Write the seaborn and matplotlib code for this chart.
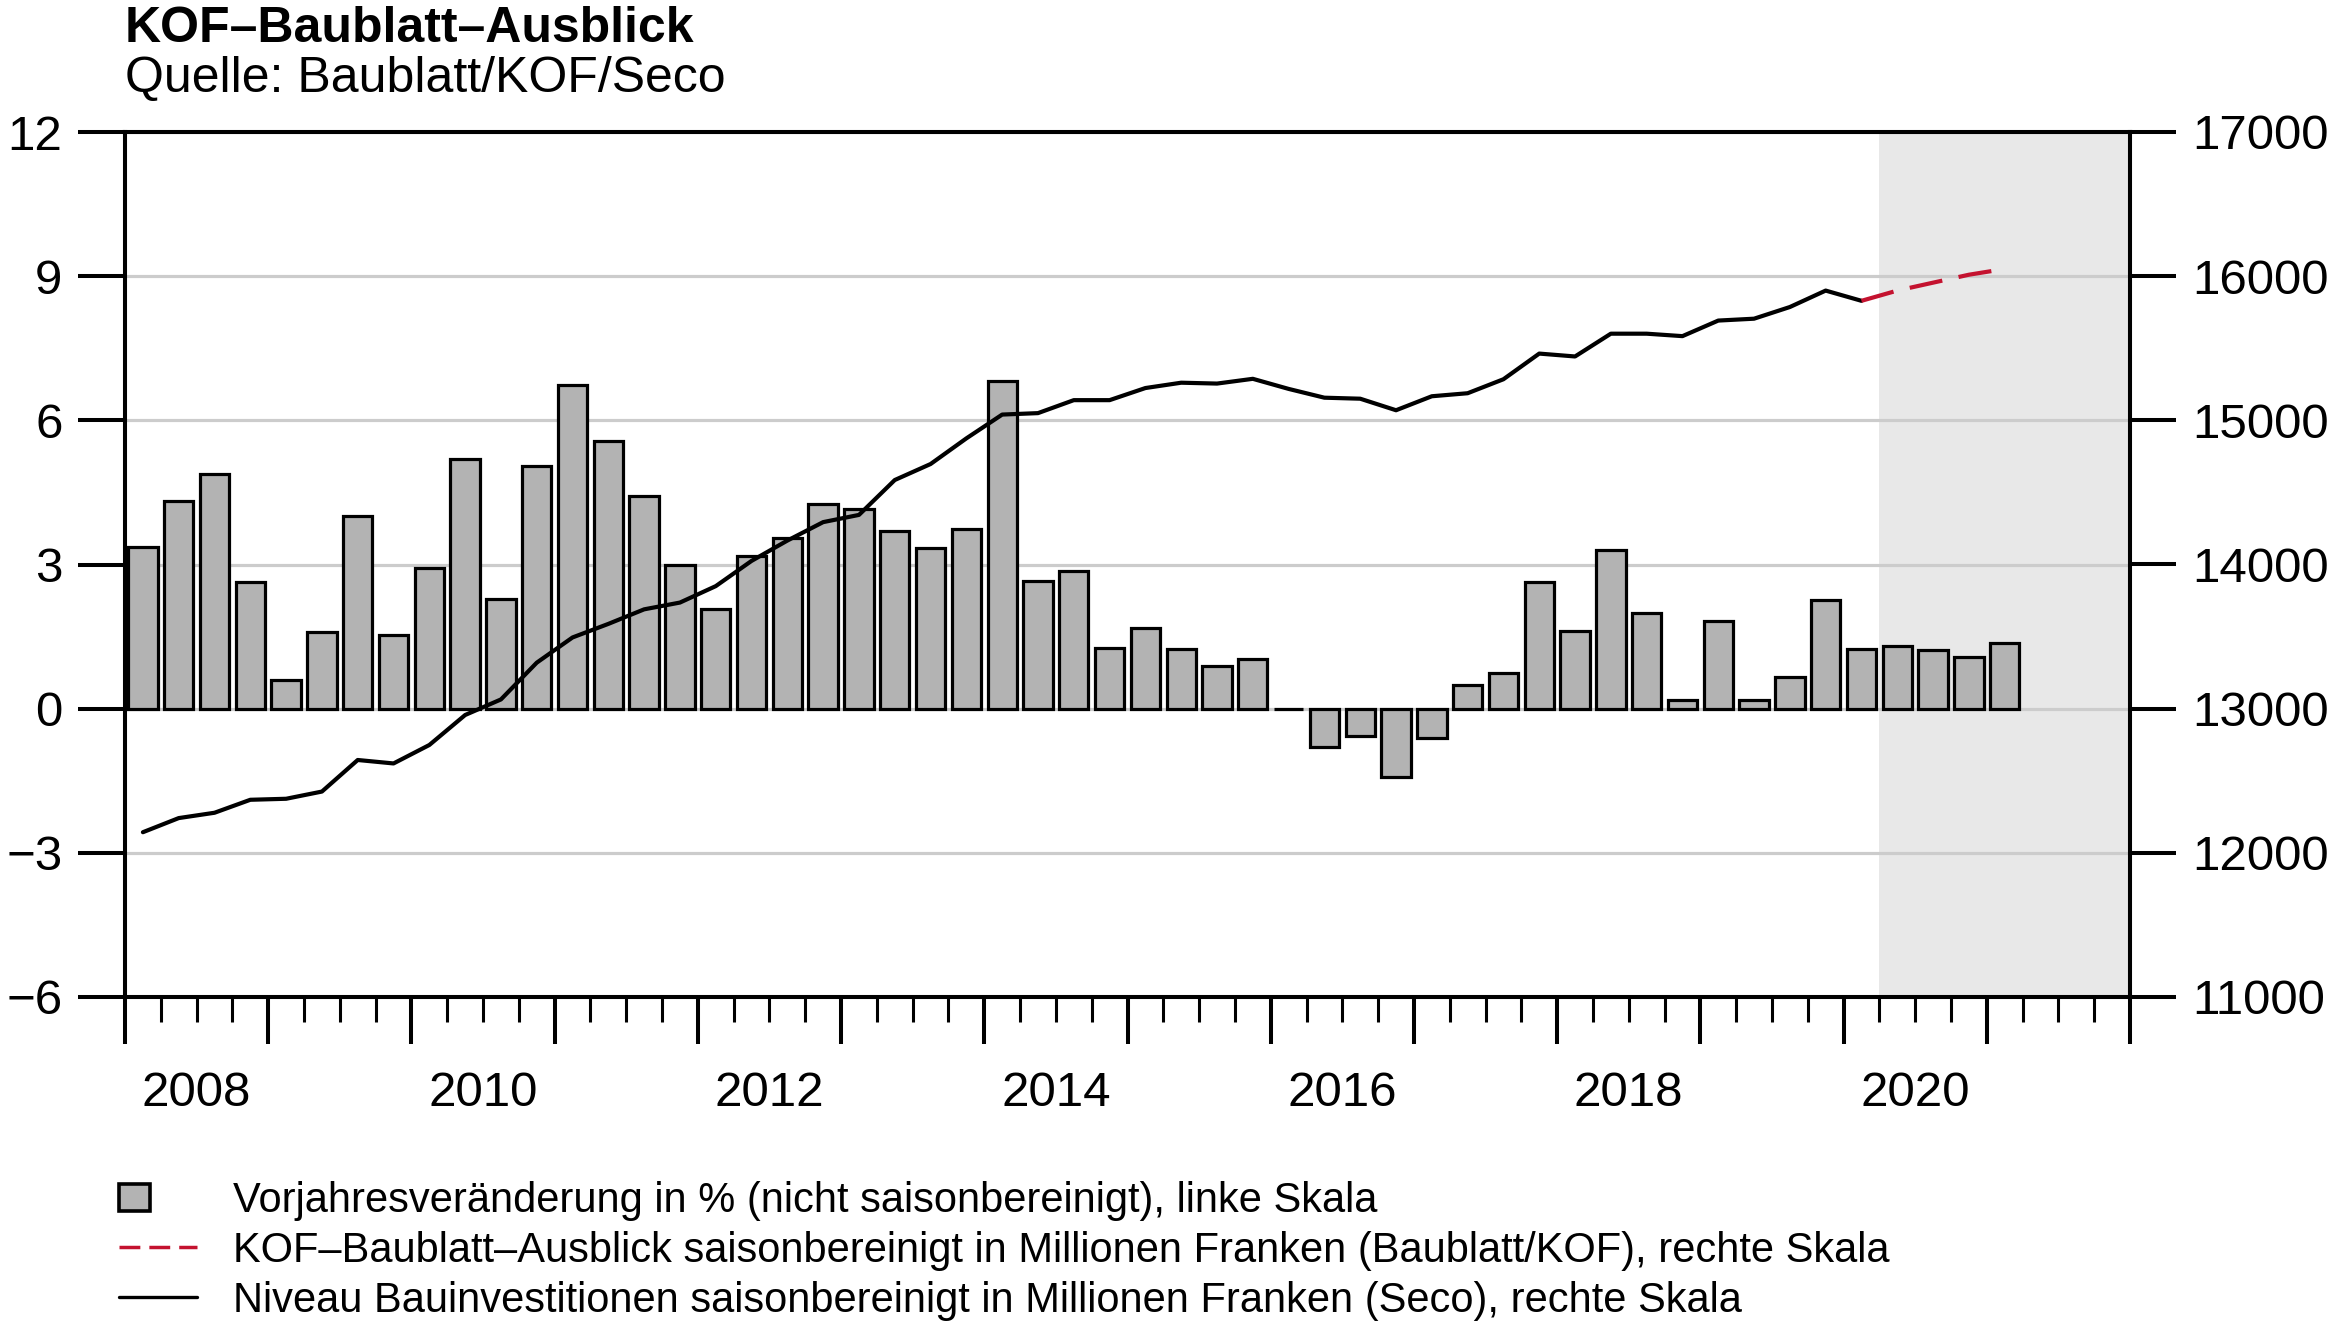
import numpy as np
import pandas as pd
import matplotlib
matplotlib.use("Agg")
import matplotlib.pyplot as plt
import matplotlib.patches as mpatches
from matplotlib.lines import Line2D
from matplotlib.legend_handler import HandlerPatch
from matplotlib.ticker import FixedLocator, FixedFormatter, NullFormatter
import seaborn as sns

# ---------------- data ----------------
quarters = pd.period_range("2008Q1", "2021Q1", freq="Q")
yoy_change = [3.36, 4.32, 4.88, 2.64, 0.59, 1.60, 4.01, 1.53, 2.92, 5.19, 2.29, 5.06,
              6.73, 5.57, 4.43, 2.98, 2.07, 3.18, 3.56, 4.26, 4.16, 3.69, 3.34, 3.74,
              6.82, 2.65, 2.86, 1.26, 1.68, 1.24, 0.88, 1.04, 0.0, -0.79, -0.57, -1.43,
              -0.60, 0.50, 0.74, 2.64, 1.61, 3.30, 2.00, 0.19, 1.82, 0.18, 0.65, 2.27,
              1.24, 1.30, 1.23, 1.08, 1.36]
level_seco = [12143, 12241, 12278, 12368, 12375, 12425, 12644, 12620, 12748, 12956,
              13064, 13319, 13494, 13588, 13689, 13736, 13850, 14025, 14166, 14294,
              14344, 14586, 14697, 14875, 15040, 15050, 15140, 15140, 15224, 15261,
              15255, 15288, 15218, 15157, 15150, 15070, 15167, 15188, 15285, 15463,
              15443, 15601, 15601, 15584, 15692, 15705, 15786, 15900, 15829]
forecast_quarters = pd.period_range("2020Q1", "2021Q1", freq="Q")
forecast_kof = [15829, 15900, 15955, 16010, 16050]
forecast_start = 2020.25
year_labels = ["2008", "2010", "2012", "2014", "2016", "2018", "2020"]
left_ticks = [-6, -3, 0, 3, 6, 9, 12]
right_ticks = [11000, 12000, 13000, 14000, 15000, 16000, 17000]

title = "KOF\u2013Baublatt\u2013Ausblick"
subtitle = "Quelle: Baublatt/KOF/Seco"
legend_labels = [
    "Vorjahresveränderung in % (nicht saisonbereinigt), linke Skala",
    "KOF\u2013Baublatt\u2013Ausblick saisonbereinigt in Millionen Franken (Baublatt/KOF), rechte Skala",
    "Niveau Bauinvestitionen saisonbereinigt in Millionen Franken (Seco), rechte Skala",
]

def qpos(periods):
    return np.array([p.year + (p.quarter - 1) / 4 + 0.125 for p in periods])

x_all = qpos(quarters)
df_bar = pd.DataFrame({"x": x_all, "yoy": yoy_change})
df_lvl = pd.DataFrame({"x": x_all[:len(level_seco)], "lvl": level_seco})
df_fc = pd.DataFrame({"x": qpos(forecast_quarters), "lvl": forecast_kof})

# ---------------- style ----------------
sns.set_theme(style="white")
plt.rcParams["font.family"] = ["Liberation Sans", "DejaVu Sans"]
for k in ("text.color", "axes.labelcolor", "xtick.color", "ytick.color", "axes.edgecolor"):
    plt.rcParams[k] = "black"
W, H = 2327, 1325
DPI = 100
fig = plt.figure(figsize=(W / DPI, H / DPI), dpi=DPI)
ax = fig.add_axes([125 / W, 1 - 997 / H, (2130 - 125) / W, (997 - 132) / H])
ax2 = ax.twinx()

BAR_FC = "#b3b3b3"
RED = "#c4122f"
FS = 35.5
LW_SPINE = 2.9

ax.axvspan(forecast_start, 2022, color="#e8e8e8", lw=0, zorder=0)
ax.yaxis.grid(True, color="#cccccc", lw=2.3)
ax.set_axisbelow(True)

sns.barplot(data=df_bar, x="x", y="yoy", native_scale=True, width=0.82,
            color=BAR_FC, saturation=1, edgecolor="black", linewidth=2.3,
            errorbar=None, ax=ax, zorder=2)

sns.lineplot(data=df_lvl, x="x", y="lvl", color="black", linewidth=3.0, ax=ax2)
sns.lineplot(data=df_fc, x="x", y="lvl", color=RED, linewidth=3.0,
             dashes=False, ax=ax2, linestyle=(0, (8, 4)))

# axes limits and ticks
ax.set_xlim(2008, 2022)
ax.set_ylim(-6, 12)
ax2.set_ylim(11000, 17000)
ax.set_xlabel("")
ax.set_ylabel("")
ax2.set_xlabel("")
ax2.set_ylabel("")

years = list(range(2008, 2023))
ax.xaxis.set_major_locator(FixedLocator(years))
ax.xaxis.set_major_formatter(NullFormatter())
minor_pos, minor_lab = [], []
for y in range(2008, 2022):
    for f in (0.25, 0.5, 0.75):
        minor_pos.append(y + f)
        minor_lab.append(str(y) if (f == 0.5 and str(y) in year_labels) else "")
ax.xaxis.set_minor_locator(FixedLocator(minor_pos))
ax.xaxis.set_minor_formatter(FixedFormatter(minor_lab))
ax.tick_params(axis="x", which="major", direction="out", length=33.5, width=LW_SPINE,
               bottom=True, top=False)
ax.tick_params(axis="x", which="minor", direction="out", length=18, width=2.2,
               bottom=True, top=False, labelsize=FS, pad=35)

ax.set_yticks(left_ticks)
ax.set_yticklabels([f"{v}".replace("-", "\u2212") for v in left_ticks])
ax.tick_params(axis="y", which="major", direction="out", length=33.5, width=LW_SPINE,
               labelsize=FS, pad=11.5, left=True, right=False)
ax2.set_yticks(right_ticks)
ax2.set_yticklabels([str(v) for v in right_ticks])
ax2.tick_params(axis="y", which="major", direction="out", length=33, width=LW_SPINE,
                labelsize=FS, pad=12, right=True, left=False)
ax2.tick_params(axis="x", which="both", bottom=False, top=False, labelbottom=False)

for a in (ax, ax2):
    for s in a.spines.values():
        s.set_visible(True)
        s.set_linewidth(LW_SPINE)
        s.set_color("black")

# titles
fig.text(125 / W, 1 - 41.5 / H, title, fontsize=36, fontweight="bold",
         ha="left", va="baseline")
fig.text(125 / W, 1 - 92 / H, subtitle, fontsize=36, ha="left", va="baseline")

# legend
class SquareHandler(HandlerPatch):
    def create_artists(self, legend, orig_handle, xdescent, ydescent, width, height,
                       fontsize, trans):
        side_w = 0.40 * width
        side_h = 0.95 * height
        p = mpatches.Rectangle((-xdescent, -ydescent + (height - side_h) / 2), side_w, side_h,
                               facecolor=orig_handle.get_facecolor(),
                               edgecolor=orig_handle.get_edgecolor(),
                               linewidth=orig_handle.get_linewidth(), transform=trans)
        return [p]

h_bar = mpatches.Patch(facecolor=BAR_FC, edgecolor="black", linewidth=2.6)
h_red = Line2D([], [], color=RED, linewidth=2.5, linestyle=(0, (6, 2.6)))
h_blk = Line2D([], [], color="black", linewidth=2.4)
fig.legend([h_bar, h_red, h_blk], legend_labels, loc="upper left",
           bbox_to_anchor=(119 / W, 1 - 1181 / H), frameon=False, fontsize=30,
           handlelength=1.87, handletextpad=0.87, labelspacing=0.24,
           borderpad=0, borderaxespad=0,
           handler_map={mpatches.Patch: SquareHandler()})

fig.savefig("out.png", dpi=DPI)
